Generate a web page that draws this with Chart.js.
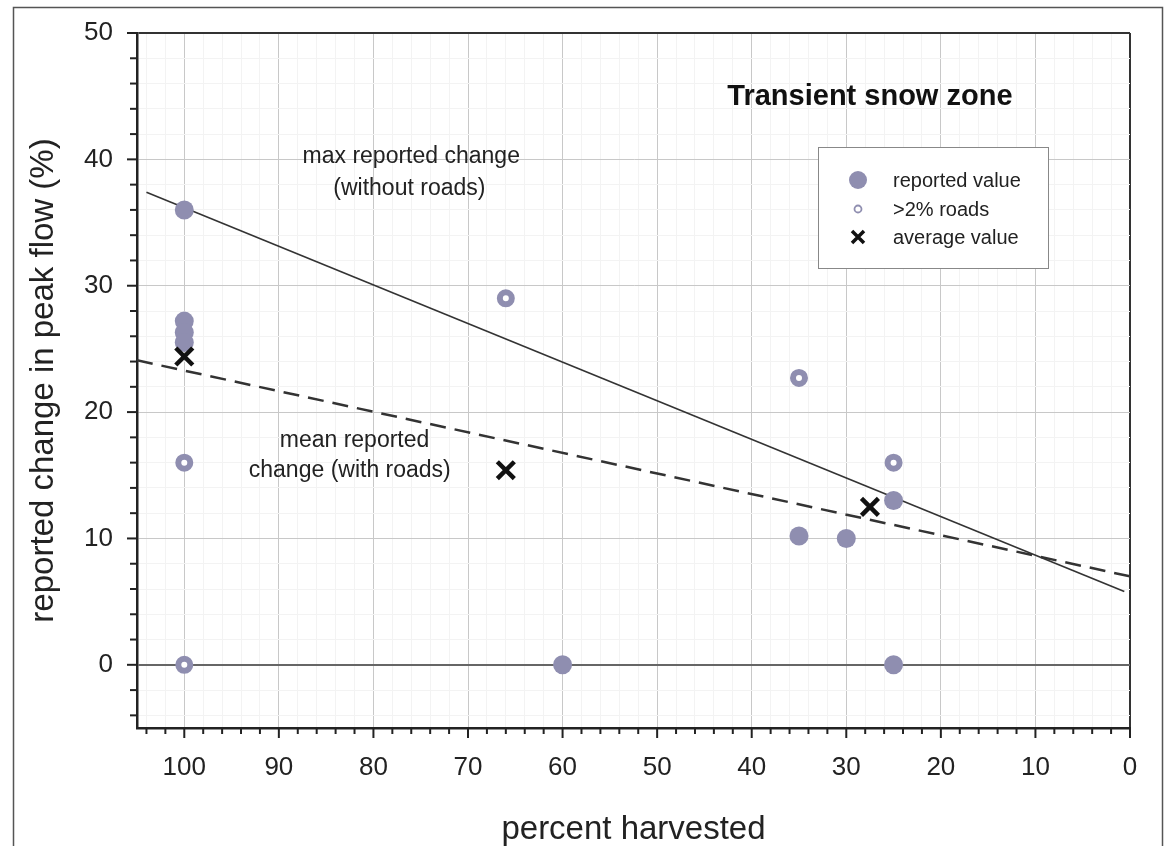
<!DOCTYPE html>
<html>
<head>
<meta charset="utf-8">
<script src="https://cdn.jsdelivr.net/npm/chart.js@4/dist/chart.umd.min.js"></script>
<style>
  html, body { margin: 0; padding: 0; background: #fff; }
  canvas { display: block; }
</style>
</head>
<body>
<canvas id="chart" width="1165" height="846"></canvas>
<script>
// values
const reportedX = [100, 100, 100, 100, 60, 35, 30, 25, 25]
const reportedY = [36, 27.2, 26.3, 25.5, 0, 10.2, 10, 13, 0]
const roadsX = [100, 100, 66, 35, 25]
const roadsY = [16, 0, 29, 22.7, 16]
const averageX = [100, 66, 27.5]
const averageY = [24.4, 15.4, 12.5]
// trend lines, end points
const maxLineX = [104, 0.6]
const maxLineY = [37.4, 5.8]
const meanLineX = [105, 0]
const meanLineY = [24.1, 7.0]

const xTicks = [0, 2, 4, 6, 8, 10, 12, 14, 16, 18, 20, 22, 24, 26, 28, 30, 32, 34, 36, 38, 40, 42, 44, 46, 48, 50,
  52, 54, 56, 58, 60, 62, 64, 66, 68, 70, 72, 74, 76, 78, 80, 82, 84, 86, 88, 90, 92, 94, 96, 98, 100, 102, 104]
const yTicks = [-4, -2, 0, 2, 4, 6, 8, 10, 12, 14, 16, 18, 20, 22, 24, 26, 28, 30, 32, 34, 36, 38, 40, 42, 44, 46, 48, 50]

// text placed in data coordinates
const noteText = ['max reported change', '(without roads)', 'mean reported', 'change (with roads)']
const noteX = [76.0, 76.2, 82.0, 82.5]
const noteY = [40.2, 37.7, 17.7, 15.4]
const titleText = 'Transient snow zone'
const legendLabels = ['reported value', '>2% roads', 'average value']

const FONT = "'Liberation Sans', Arial, sans-serif"
const PURPLE = '#8f8eb0'

const pts = (xs, ys) => xs.map((x, i) => ({ x, y: ys[i] }))

// frame round the figure
const framePlugin = {
  id: 'frame',
  beforeDraw(chart) {
    const ctx = chart.ctx
    ctx.save()
    ctx.fillStyle = '#fff'
    ctx.fillRect(0, 0, chart.width, chart.height)
    ctx.strokeStyle = '#555'
    ctx.lineWidth = 1.5
    ctx.strokeRect(13.5, 7.5, 1149, 860)
    ctx.restore()
  }
}

// major / minor tick marks outside the axes
const tickPlugin = {
  id: 'tickMarks',
  afterDraw(chart) {
    const { ctx, chartArea, scales: { x, y } } = chart
    ctx.save()
    ctx.strokeStyle = '#222'
    ctx.lineWidth = 2
    x.ticks.forEach(t => {
      const px = x.getPixelForValue(t.value)
      const len = t.value % 10 === 0 ? 10 : 6
      ctx.beginPath()
      ctx.moveTo(px, chartArea.bottom)
      ctx.lineTo(px, chartArea.bottom + len)
      ctx.stroke()
    })
    y.ticks.forEach(t => {
      const py = y.getPixelForValue(t.value)
      const len = t.value % 10 === 0 ? 10 : 7
      ctx.beginPath()
      ctx.moveTo(chartArea.left, py)
      ctx.lineTo(chartArea.left - len, py)
      ctx.stroke()
    })
    ctx.restore()
  }
}

// annotations, title and boxed legend
const notesPlugin = {
  id: 'notes',
  afterDatasetsDraw(chart) {
    const { ctx, chartArea, scales: { x, y } } = chart
    ctx.save()
    ctx.fillStyle = '#222'
    ctx.textAlign = 'center'
    ctx.textBaseline = 'middle'
    ctx.font = '23px ' + FONT
    noteText.forEach((t, i) => {
      ctx.fillText(t, x.getPixelForValue(noteX[i]), y.getPixelForValue(noteY[i]))
    })
    ctx.font = 'bold 29px ' + FONT
    ctx.fillStyle = '#111'
    ctx.fillText(titleText, x.getPixelForValue(27.5), y.getPixelForValue(44.9))

    // legend box
    const bx = chartArea.right - 312, by = chartArea.top + 114
    const bw = 230, bh = 121
    ctx.fillStyle = '#fff'
    ctx.fillRect(bx, by, bw, bh)
    ctx.strokeStyle = '#888'
    ctx.lineWidth = 1
    ctx.strokeRect(bx + 0.5, by + 0.5, bw, bh)
    const mx = bx + 40, tx = bx + 75
    const rows = [by + 33, by + 62, by + 90]
    ctx.font = '20px ' + FONT
    ctx.textAlign = 'left'
    ctx.fillStyle = '#222'
    legendLabels.forEach((l, i) => ctx.fillText(l, tx, rows[i] + 1))
    ctx.fillStyle = PURPLE
    ctx.beginPath()
    ctx.arc(mx, rows[0], 9, 0, Math.PI * 2)
    ctx.fill()
    ctx.strokeStyle = PURPLE
    ctx.lineWidth = 1.8
    ctx.beginPath()
    ctx.arc(mx, rows[1], 3.5, 0, Math.PI * 2)
    ctx.stroke()
    ctx.strokeStyle = '#111'
    ctx.lineWidth = 3.5
    ctx.beginPath()
    ctx.moveTo(mx - 6, rows[2] - 6); ctx.lineTo(mx + 6, rows[2] + 6)
    ctx.moveTo(mx + 6, rows[2] - 6); ctx.lineTo(mx - 6, rows[2] + 6)
    ctx.stroke()
    ctx.restore()
  }
}

function gridColorY(c) {
  const v = c.tick.value
  if (v === 50) return '#333'
  if (v === 0) return '#666'
  return v % 10 === 0 ? '#c8c8c8' : '#f3f3f3'
}
function gridWidthY(c) {
  const v = c.tick.value
  return v === 50 || v === 0 ? 2 : 1
}
function gridColorX(c) {
  const v = c.tick.value
  if (v === 0) return '#333'
  return v % 10 === 0 ? '#c8c8c8' : '#f3f3f3'
}

new Chart(document.getElementById('chart').getContext('2d'), {
  type: 'scatter',
  data: {
    datasets: [
      {
        label: 'average value',
        data: pts(averageX, averageY),
        pointStyle: 'crossRot',
        pointRadius: 12,
        borderColor: '#111',
        borderWidth: 4.5,
        order: 1
      },
      {
        label: '>2% roads',
        data: pts(roadsX, roadsY),
        pointStyle: 'circle',
        pointRadius: 6,
        borderWidth: 6,
        borderColor: PURPLE,
        backgroundColor: '#fff',
        order: 2
      },
      {
        label: 'reported value',
        data: pts(reportedX, reportedY),
        pointStyle: 'circle',
        pointRadius: 9.5,
        borderWidth: 0,
        backgroundColor: PURPLE,
        order: 3
      },
      {
        label: 'max reported change',
        data: pts(maxLineX, maxLineY),
        showLine: true,
        pointRadius: 0,
        borderColor: '#333',
        borderWidth: 1.6,
        order: 5
      },
      {
        label: 'mean reported change',
        data: pts(meanLineX, meanLineY),
        showLine: true,
        pointRadius: 0,
        borderColor: '#333',
        borderWidth: 2.5,
        borderDash: [16, 9],
        order: 6
      }
    ]
  },
  options: {
    responsive: false,
    animation: false,
    layout: { padding: { left: 0, top: 33, right: 35, bottom: 0 } },
    plugins: {
      legend: { display: false },
      tooltip: { enabled: false }
    },
    scales: {
      x: {
        type: 'linear',
        reverse: true,
        min: 0,
        max: 105,
        afterBuildTicks: s => { s.ticks = xTicks.map(v => ({ value: v })) },
        afterFit: s => { s.height = 118; s.paddingLeft = 0; s.paddingRight = 10 },
        ticks: {
          autoSkip: false,
          maxRotation: 0,
          padding: 24,
          color: '#222',
          font: { family: FONT, size: 26 },
          callback: v => (v % 10 === 0 ? String(v) : '')
        },
        grid: { color: gridColorX, lineWidth: c => (c.tick.value === 0 ? 2 : 1), drawTicks: false },
        border: { color: '#222', width: 2.5 },
        title: {
          display: true,
          text: 'percent harvested',
          color: '#222',
          font: { family: FONT, size: 33, lineHeight: 1 },
          padding: { top: 0, bottom: 0 }
        }
      },
      y: {
        type: 'linear',
        min: -5,
        max: 50,
        afterBuildTicks: s => { s.ticks = yTicks.map(v => ({ value: v })) },
        afterFit: s => { s.width = 137; s.paddingTop = 16; s.paddingBottom = 0 },
        ticks: {
          autoSkip: false,
          padding: 24,
          color: '#222',
          font: { family: FONT, size: 26 },
          callback: v => (v % 10 === 0 ? String(v) : '')
        },
        grid: { color: gridColorY, lineWidth: gridWidthY, drawTicks: false },
        border: { color: '#222', width: 2.5 },
        title: {
          display: true,
          text: 'reported change in peak flow (%)',
          color: '#222',
          font: { family: FONT, size: 33, lineHeight: 1 },
          padding: { top: 27, bottom: 0 }
        }
      }
    }
  },
  plugins: [framePlugin, tickPlugin, notesPlugin]
})
</script>
</body>
</html>
